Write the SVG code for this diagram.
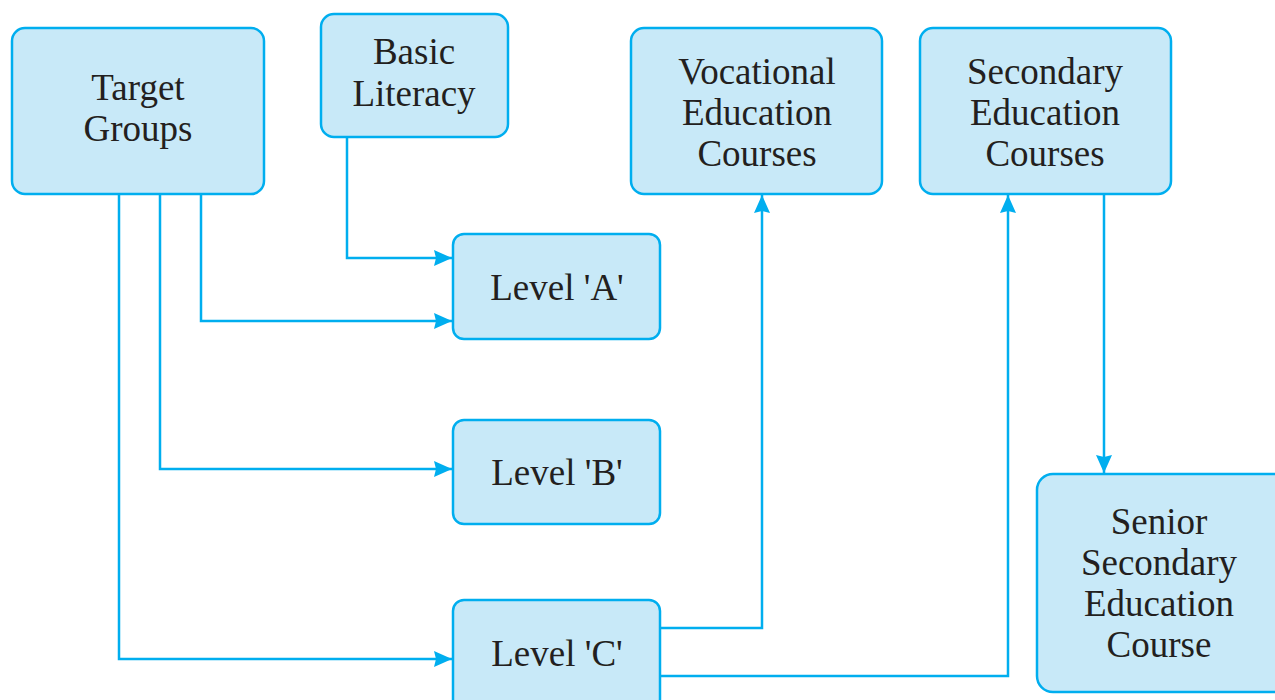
<svg xmlns="http://www.w3.org/2000/svg" width="1275" height="700" viewBox="0 0 1275 700">
<style>
.box{fill:#C8E9F8;stroke:#00AEEF;stroke-width:2.5}
.t{font-family:"Liberation Serif","Times New Roman",serif;font-size:37px;fill:#231F20;text-anchor:middle}
.c{fill:none;stroke:#00AEEF;stroke-width:2.5}
</style>
<defs>
<marker id="ah" markerWidth="18" markerHeight="16" refX="18" refY="8" orient="auto" markerUnits="userSpaceOnUse">
<path d="M0,0 L18,8 L0,16 L2,8 Z" fill="#00AEEF"/>
</marker>
</defs>
<rect width="1275" height="700" fill="#fff"/>
<g id="connectors">
<path class="c" d="M347,137 V258 H452" marker-end="url(#ah)"/>
<path class="c" d="M201,194 V321 H452" marker-end="url(#ah)"/>
<path class="c" d="M160,194 V469 H452" marker-end="url(#ah)"/>
<path class="c" d="M119,194 V659 H452" marker-end="url(#ah)"/>
<path class="c" d="M660,628 H762 V195" marker-end="url(#ah)"/>
<path class="c" d="M660,676 H1008 V195" marker-end="url(#ah)"/>
<path class="c" d="M1104,194 V473" marker-end="url(#ah)"/>
</g>
<g id="target-groups">
<rect class="box" x="12" y="28" width="252" height="166" rx="13"/>
<text class="t" x="138" y="100">Target</text>
<text class="t" x="138" y="141">Groups</text>
</g>
<g id="basic-literacy">
<rect class="box" x="321" y="14" width="187" height="123" rx="13"/>
<text class="t" x="414" y="64">Basic</text>
<text class="t" x="414" y="106">Literacy</text>
</g>
<g id="vocational">
<rect class="box" x="631" y="28" width="251" height="166" rx="13"/>
<text class="t" x="757" y="84">Vocational</text>
<text class="t" x="757" y="125">Education</text>
<text class="t" x="757" y="166">Courses</text>
</g>
<g id="secondary">
<rect class="box" x="920" y="28" width="251" height="166" rx="13"/>
<text class="t" x="1045" y="84">Secondary</text>
<text class="t" x="1045" y="125">Education</text>
<text class="t" x="1045" y="166">Courses</text>
</g>
<g id="level-a">
<rect class="box" x="453" y="234" width="207" height="105" rx="11"/>
<text class="t" x="557" y="300">Level 'A'</text>
</g>
<g id="level-b">
<rect class="box" x="453" y="420" width="207" height="104" rx="11"/>
<text class="t" x="557" y="485">Level 'B'</text>
</g>
<g id="level-c">
<rect class="box" x="453" y="600" width="207" height="110" rx="11"/>
<text class="t" x="557" y="666">Level 'C'</text>
</g>
<g id="senior-secondary">
<rect class="box" x="1037" y="474" width="260" height="218" rx="16"/>
<text class="t" x="1159" y="534">Senior</text>
<text class="t" x="1159" y="575">Secondary</text>
<text class="t" x="1159" y="616">Education</text>
<text class="t" x="1159" y="657">Course</text>
</g>
</svg>
